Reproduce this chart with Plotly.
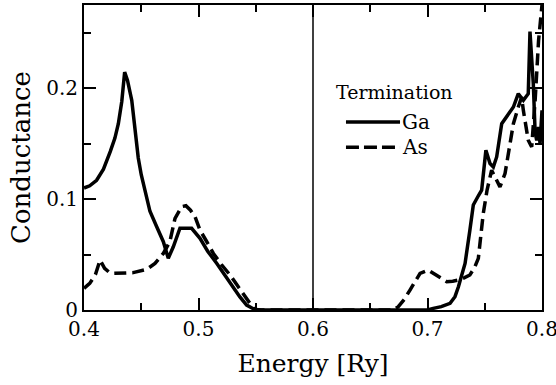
import plotly.graph_objects as go

# Conductance vs energy for the two surface terminations
energy_ga = [0.400, 0.405, 0.411, 0.417, 0.423, 0.427, 0.430, 0.433, 0.4355, 0.438,
             0.4417, 0.4447, 0.4474, 0.450, 0.453, 0.4576, 0.4635, 0.4693, 0.4736, 0.478,
             0.4838, 0.489, 0.494, 0.5013, 0.508, 0.516, 0.523, 0.530, 0.536, 0.542,
             0.549, 0.555, 0.600, 0.650, 0.700, 0.705, 0.712, 0.7197, 0.724, 0.727,
             0.7328, 0.737, 0.740, 0.7444, 0.7473, 0.751, 0.7546, 0.7575, 0.7604, 0.7648,
             0.769, 0.775, 0.7793, 0.7837, 0.788, 0.7895, 0.7924, 0.794, 0.7954, 0.797,
             0.7983, 0.800]
cond_ga = [0.110, 0.112, 0.117, 0.127, 0.143, 0.155, 0.168, 0.188, 0.2145, 0.207,
           0.189, 0.162, 0.137, 0.122, 0.110, 0.089, 0.075, 0.0616, 0.0466, 0.057,
           0.0737, 0.074, 0.0737, 0.0646, 0.053, 0.042, 0.031, 0.021, 0.012, 0.0045,
           0.0005, 0.0, 0.0, 0.0, 0.0, 0.0015, 0.003, 0.006, 0.012, 0.021,
           0.042, 0.072, 0.0947, 0.103, 0.108, 0.144, 0.132, 0.129, 0.138, 0.168,
           0.174, 0.183, 0.195, 0.189, 0.195, 0.251, 0.204, 0.160, 0.153, 0.165,
           0.150, 0.180]

energy_as = [0.400, 0.405, 0.410, 0.414, 0.418, 0.422, 0.4256, 0.435, 0.443, 0.4548,
             0.462, 0.4693, 0.475, 0.4795, 0.4853, 0.489, 0.493, 0.497, 0.5013, 0.507,
             0.513, 0.520, 0.5275, 0.534, 0.5406, 0.545, 0.548, 0.552, 0.600, 0.650,
             0.670, 0.6745, 0.680, 0.6847, 0.689, 0.6935, 0.7007, 0.708, 0.7168, 0.722,
             0.727, 0.732, 0.737, 0.741, 0.7444, 0.7487, 0.752, 0.756, 0.759, 0.7633,
             0.7677, 0.772, 0.775, 0.7793, 0.7822, 0.7837, 0.788, 0.791, 0.794, 0.797,
             0.799, 0.800]
cond_as = [0.0195, 0.024, 0.032, 0.045, 0.0376, 0.034, 0.033, 0.033, 0.0337, 0.0367,
           0.042, 0.051, 0.0616, 0.0827, 0.0932, 0.094, 0.090, 0.084, 0.072, 0.062,
           0.051, 0.041, 0.0316, 0.022, 0.012, 0.005, 0.0015, 0.0, 0.0, 0.0,
           0.0, 0.003, 0.010, 0.018, 0.026, 0.033, 0.036, 0.0316, 0.0255, 0.026,
           0.027, 0.029, 0.0316, 0.038, 0.0466, 0.087, 0.108, 0.126, 0.120, 0.111,
           0.123, 0.147, 0.168, 0.183, 0.192, 0.180, 0.153, 0.147, 0.189, 0.243,
           0.270, 0.275]

fermi_energy = 0.6
x_ticks = [0.4, 0.5, 0.6, 0.7, 0.8]
x_tick_labels = ["0.4", "0.5", "0.6", "0.7", "0.8"]
y_ticks = [0.0, 0.1, 0.2]
y_tick_labels = ["0", "0.1", "0.2"]
legend_title = "Termination"
series_names = ["Ga", "As"]

FONT = "DejaVu Serif"
LINE_W = 3.5
DATA_DASH = "12px,6px"
SWATCH_DASH = "13px,5px"

fig = go.Figure()
fig.add_trace(go.Scatter(x=energy_ga, y=cond_ga, mode="lines", name=series_names[0],
                         line=dict(color="black", width=LINE_W), showlegend=False))
fig.add_trace(go.Scatter(x=energy_as, y=cond_as, mode="lines", name=series_names[1],
                         line=dict(color="black", width=LINE_W, dash=DATA_DASH),
                         showlegend=False))

# vertical marker at the Fermi level
fig.add_shape(type="line", xref="x", yref="paper", x0=fermi_energy, x1=fermi_energy,
              y0=0, y1=1, line=dict(color="black", width=1.5))

# hand-placed legend block
fig.add_annotation(xref="paper", yref="paper", x=0.679, y=0.715, text=legend_title,
                   showarrow=False, font=dict(family=FONT, size=19, color="black"),
                   xanchor="center", yanchor="middle")
swatch_y = [0.616, 0.534]
for i, name in enumerate(series_names):
    fig.add_shape(type="line", xref="paper", yref="paper", x0=0.572, x1=0.690,
                  y0=swatch_y[i], y1=swatch_y[i],
                  line=dict(color="black", width=LINE_W,
                            dash="solid" if i == 0 else SWATCH_DASH))
    fig.add_annotation(xref="paper", yref="paper", x=0.692, y=swatch_y[i], text=name,
                       showarrow=False, font=dict(family=FONT, size=20, color="black"),
                       xanchor="left", yanchor="middle", borderpad=0)

axis_common = dict(showline=True, linecolor="black", linewidth=2, mirror="ticks",
                   ticks="inside", ticklen=12, tickwidth=1.5, tickcolor="black",
                   showgrid=False, zeroline=False, automargin=False,
                   ticklabeloverflow="allow",
                   tickfont=dict(family=FONT, size=20, color="black"))

fig.update_xaxes(range=[0.4, 0.8], tickvals=x_ticks, ticktext=x_tick_labels,
                 minor=dict(ticks="inside", ticklen=7, dtick=0.05, tick0=0.4,
                            tickcolor="black", tickwidth=1.5),
                 title=dict(text="Energy [Ry]", font=dict(family=FONT, size=25, color="black"),
                            standoff=14),
                 **axis_common)
fig.update_yaxes(range=[0, 0.275], tickvals=y_ticks, ticktext=y_tick_labels,
                 minor=dict(ticks="inside", ticklen=7, dtick=0.05, tick0=0,
                            tickcolor="black", tickwidth=1.5),
                 title=dict(text="Conductance", font=dict(family=FONT, size=26, color="black"),
                            standoff=8),
                 **axis_common)

fig.update_layout(width=556, height=385, margin=dict(l=84, r=14, t=5, b=75),
                  plot_bgcolor="white", paper_bgcolor="white",
                  font=dict(family=FONT, color="black"))

fig.write_html("out.html")
